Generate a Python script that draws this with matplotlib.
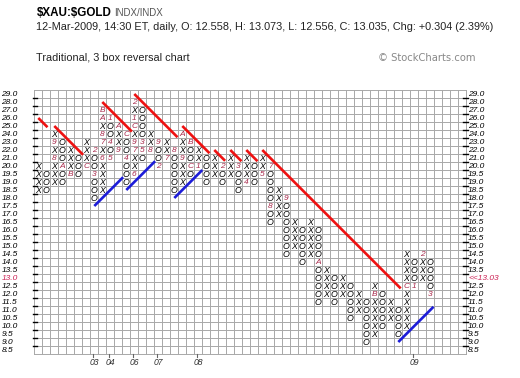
import matplotlib
matplotlib.use("Agg")
import matplotlib.pyplot as plt
from matplotlib.transforms import blended_transform_factory

# ---------------- data ----------------
price_levels = [29.0, 28.0, 27.0, 26.0, 25.0, 24.0, 23.0, 22.0, 21.0, 20.0,
                19.5, 19.0, 18.5, 18.0, 17.5, 17.0, 16.5, 16.0, 15.5, 15.0,
                14.5, 14.0, 13.5, 13.0, 12.5, 12.0, 11.5, 11.0, 10.5, 10.0,
                9.5, 9.0, 8.5]

column_types = "XOXOXOXOXOXOXOXOXOXOXOXOXOXOXOXOXOXOXOXOXOXOXOXOXO"
column_low = [18.5, 18.5, 19, 19, 19.5, 19.5, 20, 18, 18.5, 21,
              22, 19, 19.5, 21, 22, 20, 21, 18.5, 19, 19.5,
              20, 19, 19.5, 19, 19.5, 18.5, 19, 19, 19.5, 16.5,
              17, 14.5, 15, 14, 14.5, 11.5, 12, 11.5, 12, 10.5,
              11, 9, 9.5, 10, 10.5, 9.5, 10, 12.5, 13, 12]
column_high = [20, 19.5, 24, 23, 22, 21, 23, 22, 27, 26,
               25, 24, 28, 27, 24, 23, 23, 22, 24, 23,
               22, 21, 21, 20, 21, 20, 21, 20, 21, 20,
               18.5, 18, 16.5, 16, 16.5, 16, 13.5, 13, 13, 12.5,
               12, 11.5, 12.5, 12, 11.5, 11, 14.5, 14, 14.5, 14]

marker_cols = [2, 2, 3, 4, 6, 7, 7, 8, 8, 8, 8, 8, 9, 9, 9, 10, 10, 11, 11,
               12, 12, 12, 12, 12, 12, 13, 13, 14, 15, 15, 16, 17, 18, 18,
               19, 19, 20, 23, 25, 26, 28, 29, 29, 31, 35, 42, 46, 47, 48, 49]
marker_prices = [21, 23, 20, 19.5, 20, 22, 19.5, 21, 23, 24, 26, 27, 26, 23, 21, 22, 25, 24, 21,
                 19.5, 22, 23, 25, 26, 28, 23, 22, 22, 23, 20, 21, 22, 21, 24,
                 23, 20, 20, 20, 20, 19, 19.5, 20, 17.5, 18, 14, 12, 12.5, 12.5, 14.5, 12]
marker_labels = ["8", "9", "A", "B", "C", "2", "3", "6", "7", "8", "A", "B", "1", "4", "5", "9", "A", "C", "4",
                 "6", "7", "9", "C", "1", "2", "3", "5", "8", "9", "2", "7", "8", "9", "A",
                 "B", "C", "1", "2", "3", "4", "5", "7", "8", "9", "A", "B", "C", "1", "2", "3"]

year_cols = [7, 9, 12, 15, 20, 47]
year_labels = ["03", "04", "06", "07", "08", "09"]

# trend lines: start (column, row) and length in boxes
resistance_lines = [(0.5, 3.5, 1.15), (2.5, 4.5, 3.6), (8.5, 1.5, 3.7), (12.5, 0.5, 5.4),
                    (18.5, 4.5, 3.4), (22.5, 7.5, 1.35), (24.5, 7.5, 1.4), (26.5, 7.5, 1.4),
                    (28.5, 7.5, 17.3)]
support_lines = [(7.5, 14.5, 3.6), (11.5, 12.5, 3.6), (17.5, 13.5, 3.5), (45.5, 31.5, 4.4)]

last_price_label = "<<13.03"
last_price_level = 13.0

n_cols = 54
row_of = {p: i for i, p in enumerate(price_levels)}

# ---------------- figure ----------------
W, H = 520, 378
fig = plt.figure(figsize=(W / 100, H / 100), dpi=100)
fig.patch.set_facecolor("white")
x0, x1, y0, y1 = 34.3, 466.3, 90.0, 354.0
ax = fig.add_axes([x0 / W, 1 - y1 / H, (x1 - x0) / W, (y1 - y0) / H])
ax.set_xlim(0, n_cols)
ax.set_ylim(len(price_levels), 0)
ax.axis("off")

grid_c = "#a8a8a8"
for i in range(n_cols + 1):
    ax.plot([i, i], [0, len(price_levels)], color=grid_c, lw=0.7, zorder=1, clip_on=False)
for j in range(len(price_levels) + 1):
    ax.plot([0, n_cols], [j, j], color=grid_c, lw=0.7, zorder=1, clip_on=False)

font = "Liberation Sans"
mark_color = "#a8284a"
markers = {(c, p): m for c, p, m in zip(marker_cols, marker_prices, marker_labels)}

for c, (t, lo, hi) in enumerate(zip(column_types, column_low, column_high)):
    for p in price_levels:
        if lo <= p <= hi:
            r = row_of[p]
            if (c, p) in markers:
                ax.text(c + 0.5, r + 0.55, markers[(c, p)], ha="center", va="center",
                        fontsize=6.0, style="italic", color=mark_color, family=font, zorder=3)
            else:
                ax.text(c + 0.5, r + 0.55, t, ha="center", va="center",
                        fontsize=6.3, style="italic", color="black", family=font, zorder=3)

for (c, r, n) in resistance_lines:
    ax.plot([c, c + n], [r, r + n], color="#ee1111", lw=1.9, solid_capstyle="butt", zorder=4)
for (c, r, n) in support_lines:
    ax.plot([c, c + n], [r, r - n], color="#1c1cd8", lw=1.9, solid_capstyle="butt", zorder=4)

# price labels & ticks
trL = blended_transform_factory(fig.transFigure, ax.transData)
for r, p in enumerate(price_levels):
    lab = f"{p:.1f}"
    col = "#cc2255" if p == last_price_level else "black"
    ax.text(1.5 / W, r + 0.55, lab, transform=trL, ha="left", va="center",
            fontsize=6.0, style="italic", color=col, family=font)
    if p == last_price_level:
        ax.text(468 / W, r + 0.55, last_price_label, transform=trL, ha="left", va="center",
                fontsize=6.0, style="italic", color="#cc2255", family=font)
    else:
        ax.text(468 / W, r + 0.55, lab, transform=trL, ha="left", va="center",
                fontsize=6.0, style="italic", color="black", family=font)
for j in range(1, len(price_levels)):
    ax.plot([-0.2, 0.35], [j, j], color="black", lw=1.0, clip_on=False, zorder=5)
    ax.plot([n_cols - 0.45, n_cols + 0.2], [j, j], color="black", lw=1.0, clip_on=False, zorder=5)

# year labels
for c, lab in zip(year_cols, year_labels):
    ax.plot([c + 0.35, c + 0.35], [len(price_levels), len(price_levels) + 0.35],
            color="#666666", lw=0.8, clip_on=False)
    ax.text(c + 0.5, len(price_levels) + 1.1, lab, ha="center", va="center",
            fontsize=6.2, style="italic", color="#333333", family=font)

# header
fig.text(37 / W, 1 - 13.5 / H, "$XAU:$GOLD", fontsize=8.4, fontweight="bold",
         family=font, va="center", ha="left", parse_math=False)
fig.text(114 / W, 1 - 13.5 / H, "INDX/INDX", fontsize=7.0, color="#555555",
         family=font, va="center", ha="left")
fig.text(36 / W, 1 - 27.5 / H,
         "12-Mar-2009, 14:30 ET, daily, O: 12.558, H: 13.073, L: 12.556, C: 13.035, Chg: +0.304 (2.39%)",
         fontsize=7.8, color="#222222", family=font, va="center", ha="left")
fig.text(36 / W, 1 - 57.5 / H, "Traditional, 3 box reversal chart", fontsize=7.8,
         color="#222222", family=font, va="center", ha="left")
fig.text(475 / W, 1 - 58 / H, "\u00a9 StockCharts.com", fontsize=7.2, color="#888888",
         family="DejaVu Sans", va="center", ha="right")

fig.savefig("out.png", dpi=100, facecolor="white")
